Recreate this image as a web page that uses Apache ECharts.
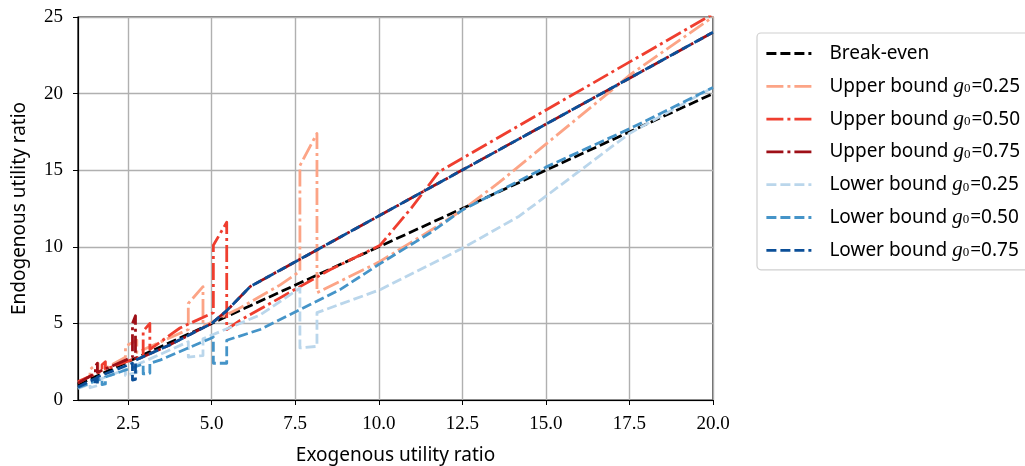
<!DOCTYPE html>
<html>
<head>
<meta charset="utf-8">
<script src="https://cdn.jsdelivr.net/npm/echarts@6/dist/echarts.min.js"></script>
<style>
  html, body { margin: 0; padding: 0; background: #fff; }
  #main { width: 1025px; height: 466px; }
</style>
</head>
<body>
<div id="main"></div>
<script>
// tick values
var xTicks = [2.5, 5, 7.5, 10, 12.5, 15, 17.5, 20];

// curves, [exogenous, endogenous]
var breakEven = [[1, 1], [20, 20]];
var upper025 = [[1, 1.15], [1.36, 1.55], [1.36, 2.0], [1.6, 2.4], [1.6, 1.8], [2.42, 2.8], [2.42, 3.5], [2.76, 3.9], [2.76, 3.1],
  [4.3, 4.6], [4.3, 6.3], [4.74, 7.4], [4.74, 4.8], [5.76, 5.9], [7.04, 7.5], [7.64, 8.4], [7.64, 15.3], [8.15, 17.4], [8.15, 7.0],
  [10, 9.0], [11.5, 11.0], [12.5, 12.4], [13.6, 14.2], [15, 16.7], [16.9, 20.1], [17.5, 21.2], [20, 25.0]];
var upper050 = [[1, 1.2], [1.72, 1.9], [1.72, 2.3], [1.82, 2.5], [1.82, 2.0], [2.95, 2.9], [2.95, 4.5], [3.15, 5.0], [3.15, 3.3],
  [4.05, 4.7], [5.05, 5.7], [5.05, 10.1], [5.45, 11.6], [5.45, 4.6], [5.85, 5.2], [8.54, 8.5], [10.04, 10.1], [11.0, 12.6],
  [11.8, 14.9], [20, 25.2]];
var upper075 = [[1, 1.1], [1.52, 1.75], [1.52, 2.2], [1.58, 2.4], [1.58, 1.8], [2.63, 2.8], [2.63, 5.0], [2.72, 5.5], [2.72, 2.6],
  [3.75, 3.6], [5.0, 5.0], [5.46, 5.85], [6.15, 7.4], [20, 24.0]];
var lower025 = [[1, 0.75], [1.36, 1.05], [1.36, 0.8], [1.6, 0.95], [1.6, 1.3], [2.42, 2.0], [2.42, 1.6], [2.76, 1.8], [2.76, 2.3],
  [4.3, 3.8], [4.3, 2.8], [4.74, 2.9], [4.74, 4.0], [6.45, 5.55], [7.64, 7.3], [7.64, 3.4], [8.15, 3.5], [8.15, 5.7],
  [10.04, 7.2], [12.5, 9.9], [14.2, 12.0], [15, 13.3], [17.5, 17.4], [20, 20.4]];
var lower050 = [[1, 0.8], [1.72, 1.4], [1.72, 1.0], [1.82, 1.05], [1.82, 1.5], [2.95, 2.35], [2.95, 1.7], [3.15, 1.75], [3.15, 2.4],
  [3.45, 2.6], [5.05, 4.1], [5.05, 2.4], [5.45, 2.4], [5.45, 3.9], [6.45, 4.6], [8.84, 7.2], [10.04, 8.9], [11.53, 10.9],
  [12.5, 12.4], [15, 15.2], [17.5, 17.7], [20, 20.4]];
var lower075 = [[1, 0.85], [1.52, 1.4], [1.52, 1.0], [1.58, 1.05], [1.58, 1.5], [2.63, 2.4], [2.63, 1.3], [2.72, 1.35], [2.72, 2.6],
  [3.75, 3.6], [5.0, 5.0], [5.46, 5.85], [6.15, 7.4], [20, 24.0]];

var dashed = [10, 4];
var dashDot = [17, 4, 3, 4];

function line(name, data, color, type) {
  return {
    name: name,
    type: 'line',
    data: data,
    symbol: 'none',
    animation: false,
    lineStyle: { color: color, width: 2.8, type: type, cap: 'butt', join: 'round' },
    itemStyle: { color: color }
  };
}

var myChart = echarts.init(document.getElementById('main'));
myChart.setOption({
  animation: false,
  grid: {
    left: 78, right: 312, top: 17, bottom: 66,
    outerBoundsMode: 'none',
    show: true, borderColor: '#000', borderWidth: 1.2
  },
  legend: {
    orient: 'vertical',
    left: 757, top: 33,
    itemWidth: 45, itemHeight: 18, itemGap: 11.8,
    padding: [10, 40, 9, 8],
    backgroundColor: '#fff',
    borderColor: '#cfcfcf', borderWidth: 1.2, borderRadius: 4,
    lineStyle: { width: 2.8 },
    itemStyle: { opacity: 0 },
    textStyle: {
      fontFamily: 'Noto Sans', fontSize: 19, lineHeight: 18, color: '#000', padding: [0, 0, 0, 13],
      rich: {
        g: { fontFamily: 'Liberation Serif', fontStyle: 'italic', fontSize: 21, lineHeight: 18, color: '#000' },
        s: { fontFamily: 'Liberation Serif', fontSize: 13, lineHeight: 8, color: '#000', verticalAlign: 'bottom', padding: [0, 1, 0, 0] }
      }
    },
    formatter: function (name) {
      var m = name.match(/^(.*) g0=(.*)$/);
      if (!m) return name + '{g| }';
      return m[1] + ' {g|g}{s|0}=' + m[2];
    }
  },
  xAxis: {
    type: 'value', min: 1, max: 20,
    name: 'Exogenous utility ratio', nameLocation: 'middle', nameGap: 46,
    nameTextStyle: { fontFamily: 'Noto Sans', fontSize: 19, color: '#000' },
    axisLine: { onZero: false, lineStyle: { color: '#000', width: 1.2 } },
    axisTick: { show: true, length: 5, lineStyle: { color: '#000', width: 1 }, customValues: xTicks },
    axisLabel: {
      customValues: xTicks, margin: 15,
      fontFamily: 'Liberation Serif', fontSize: 19, color: '#000',
      formatter: function (v) { return v.toFixed(1); }
    },
    splitLine: { show: true, lineStyle: { color: '#b0b0b0', width: 1.4 } }
  },
  yAxis: {
    type: 'value', min: 0, max: 25, interval: 5,
    name: 'Endogenous utility ratio', nameLocation: 'middle', nameGap: 49,
    nameTextStyle: { fontFamily: 'Noto Sans', fontSize: 19, color: '#000' },
    axisLine: { show: true, onZero: false, lineStyle: { color: '#000', width: 1.2 } },
    axisTick: { show: true, length: 5, lineStyle: { color: '#000', width: 1 } },
    axisLabel: { margin: 15, fontFamily: 'Liberation Serif', fontSize: 19, color: '#000' },
    splitLine: { show: true, lineStyle: { color: '#b0b0b0', width: 1.4 } }
  },
  series: [
    line('Break-even', breakEven, '#000000', dashed),
    line('Upper bound g0=0.25', upper025, '#fca486', dashDot),
    line('Upper bound g0=0.50', upper050, '#ef3e2f', dashDot),
    line('Upper bound g0=0.75', upper075, '#9e0f17', dashDot),
    line('Lower bound g0=0.25', lower025, '#bad6eb', dashed),
    line('Lower bound g0=0.50', lower050, '#4594c8', dashed),
    line('Lower bound g0=0.75', lower075, '#0b4f98', dashed)
  ]
});
</script>
</body>
</html>
